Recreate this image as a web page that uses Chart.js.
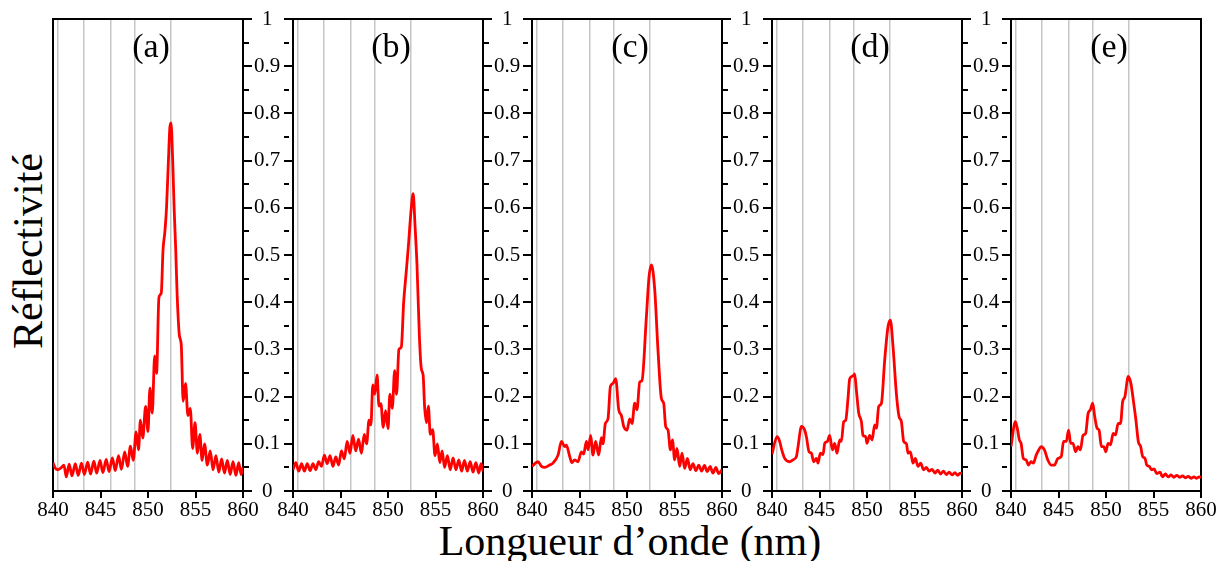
<!DOCTYPE html>
<html lang="fr">
<head>
    <meta charset="UTF-8">
    <title>Réflectivité</title>
    <script src="https://cdn.jsdelivr.net/npm/chart.js"></script>
    <style>
        html, body { margin: 0; padding: 0; background: #fff; }
        body {
            width: 1228px; height: 561px; position: relative; overflow: hidden;
            font-family: "Liberation Serif", serif; color: #000;
        }
        canvas { position: absolute; top: 0; }
        .panel-label {
            position: absolute; top: 29px; width: 100px;
            text-align: center; font-size: 34px; line-height: 34px;
        }
        #x-title {
            position: absolute; left: 330px; top: 520px; width: 600px;
            text-align: center; font-size: 42px; line-height: 42px;
        }
        #y-title {
            position: absolute; left: -122px; top: 230px; width: 300px; height: 42px;
            text-align: center; font-size: 42px; line-height: 42px;
            transform: rotate(-90deg);
        }
    </style>
</head>
<body>
    <div id="x-title">Longueur d’onde (nm)</div>
    <div id="y-title">Réflectivité</div>

    <script>
        // wavelengths (nm) and reflectivity
        const lambdaA = [
            840.0, 840.25, 840.5, 840.9, 841.15, 841.4, 841.7, 842.0, 842.35, 842.65,
            843.0, 843.3, 843.65, 843.95, 844.3, 844.6, 844.95, 845.25, 845.6, 845.9,
            846.25, 846.55, 846.9, 847.2, 847.55, 847.85, 848.15, 848.45, 848.75, 849.0,
            849.2, 849.45, 849.75, 850.0, 850.2, 850.45, 850.7, 850.9, 851.15, 851.4,
            851.58, 851.78, 851.95, 852.15, 852.3, 852.42, 852.6, 852.75, 852.92, 853.06,
            853.3, 853.5, 853.7, 853.95, 854.2, 854.45, 854.7, 854.95, 855.2, 855.45,
            855.7, 855.95, 856.25, 856.55, 856.85, 857.15, 857.45, 857.75, 858.05, 858.35,
            858.65, 858.95, 859.25, 859.55, 859.8, 860.0
        ];
        const reflA = [
            0.060, 0.048, 0.045, 0.050, 0.055, 0.030, 0.057, 0.032, 0.058, 0.033,
            0.059, 0.035, 0.061, 0.036, 0.063, 0.038, 0.065, 0.039, 0.067, 0.041,
            0.070, 0.043, 0.075, 0.046, 0.083, 0.052, 0.095, 0.065, 0.125, 0.087,
            0.150, 0.112, 0.179, 0.126, 0.218, 0.165, 0.286, 0.249, 0.410, 0.420,
            0.510, 0.550, 0.600, 0.700, 0.770, 0.780, 0.700, 0.600, 0.510, 0.420,
            0.330, 0.310, 0.190, 0.228, 0.160, 0.175, 0.090, 0.145, 0.080, 0.120,
            0.065, 0.100, 0.055, 0.085, 0.045, 0.075, 0.040, 0.068, 0.038, 0.065,
            0.035, 0.062, 0.033, 0.060, 0.035, 0.050
        ];

        const lambdaB = [
            840.0, 840.3, 840.6, 840.9, 841.2, 841.5, 841.8, 842.1, 842.4, 842.7,
            843.0, 843.3, 843.6, 843.9, 844.2, 844.5, 844.8, 845.1, 845.4, 845.7,
            846.0, 846.3, 846.6, 846.9, 847.2, 847.5, 847.75, 848.0, 848.2, 848.4,
            848.6, 848.85, 849.05, 849.25, 849.5, 849.75, 850.0, 850.2, 850.45, 850.7,
            850.9, 851.15, 851.4, 851.65, 851.9, 852.15, 852.45, 852.65, 852.85, 853.05,
            853.3, 853.5, 853.7, 853.85, 854.05, 854.25, 854.45, 854.7, 854.95, 855.2,
            855.45, 855.7, 855.95, 856.25, 856.55, 856.85, 857.15, 857.45, 857.75, 858.05,
            858.35, 858.65, 858.95, 859.25, 859.55, 859.8, 860.0
        ];
        const reflB = [
            0.045, 0.060, 0.042, 0.058, 0.042, 0.058, 0.043, 0.058, 0.045, 0.062,
            0.052, 0.076, 0.058, 0.075, 0.052, 0.072, 0.055, 0.085, 0.068, 0.105,
            0.080, 0.118, 0.085, 0.110, 0.080, 0.120, 0.100, 0.150, 0.140, 0.225,
            0.205, 0.246, 0.180, 0.185, 0.135, 0.170, 0.132, 0.205, 0.175, 0.255,
            0.205, 0.300, 0.305, 0.400, 0.460, 0.520, 0.600, 0.630, 0.560, 0.480,
            0.330, 0.260, 0.245, 0.180, 0.145, 0.180, 0.120, 0.130, 0.075, 0.100,
            0.060, 0.085, 0.050, 0.075, 0.045, 0.070, 0.045, 0.066, 0.042, 0.065,
            0.042, 0.062, 0.040, 0.060, 0.038, 0.058, 0.042
        ];

        const lambdaC = [
            840.0, 840.3, 840.63, 841.0, 841.34, 841.86, 842.2, 842.74, 843.1, 843.44,
            843.62, 843.97, 844.2, 844.49, 844.84, 845.2, 845.44, 845.72, 845.9, 846.18,
            846.42, 846.7, 847.02, 847.3, 847.47, 847.72, 848.0, 848.25, 848.53, 848.81,
            849.13, 849.41, 849.65, 850.0, 850.28, 850.53, 850.81, 851.05, 851.34, 851.58,
            852.04, 852.32, 852.57, 852.92, 853.26, 853.62, 853.86, 854.07, 854.32, 854.57,
            854.78, 855.02, 855.26, 855.55, 855.79, 856.07, 856.36, 856.65, 856.95, 857.25,
            857.55, 857.85, 858.15, 858.45, 858.75, 859.05, 859.35, 859.65, 860.0
        ];
        const reflC = [
            0.052, 0.058, 0.062, 0.052, 0.050, 0.055, 0.059, 0.076, 0.105, 0.094,
            0.097, 0.073, 0.060, 0.066, 0.062, 0.083, 0.078, 0.105, 0.087, 0.118,
            0.076, 0.105, 0.076, 0.113, 0.100, 0.143, 0.153, 0.221, 0.228, 0.238,
            0.172, 0.160, 0.137, 0.129, 0.153, 0.143, 0.186, 0.172, 0.231, 0.234,
            0.369, 0.454, 0.479, 0.426, 0.299, 0.196, 0.186, 0.137, 0.129, 0.087,
            0.108, 0.066, 0.090, 0.052, 0.080, 0.048, 0.069, 0.045, 0.058, 0.043,
            0.055, 0.042, 0.054, 0.041, 0.052, 0.038, 0.050, 0.037, 0.045
        ];

        const lambdaD = [
            840.0, 840.53, 840.81, 840.99, 841.34, 841.86, 842.2, 842.57, 842.74, 843.1,
            843.44, 843.62, 843.9, 844.15, 844.39, 844.67, 844.84, 845.09, 845.37, 845.55,
            845.83, 846.07, 846.36, 846.6, 846.84, 847.13, 847.3, 847.55, 847.76, 848.0,
            848.18, 848.53, 848.7, 848.88, 849.13, 849.41, 849.58, 849.86, 850.0, 850.28,
            850.53, 850.81, 850.99, 851.23, 851.52, 851.86, 852.21, 852.46, 852.74, 853.09,
            853.37, 853.62, 853.86, 854.15, 854.32, 854.57, 854.84, 855.09, 855.37, 855.65,
            855.95, 856.25, 856.55, 856.85, 857.15, 857.45, 857.75, 858.05, 858.35, 858.65,
            858.95, 859.25, 859.55, 859.8, 860.0
        ];
        const reflD = [
            0.078, 0.115, 0.105, 0.090, 0.069, 0.062, 0.066, 0.073, 0.094, 0.137,
            0.129, 0.115, 0.083, 0.080, 0.062, 0.069, 0.059, 0.080, 0.077, 0.101,
            0.105, 0.118, 0.087, 0.101, 0.080, 0.108, 0.105, 0.147, 0.150, 0.196,
            0.238, 0.244, 0.248, 0.214, 0.165, 0.147, 0.118, 0.115, 0.101, 0.118,
            0.108, 0.140, 0.133, 0.179, 0.186, 0.277, 0.348, 0.362, 0.306, 0.207,
            0.158, 0.147, 0.105, 0.100, 0.080, 0.083, 0.059, 0.069, 0.052, 0.059,
            0.045, 0.050, 0.042, 0.046, 0.038, 0.044, 0.036, 0.042, 0.035, 0.040,
            0.034, 0.039, 0.033, 0.038, 0.036
        ];

        const lambdaE = [
            840.0, 840.46, 840.7, 840.88, 841.06, 841.3, 841.59, 841.83, 842.12, 842.36,
            842.65, 842.92, 843.17, 843.52, 843.87, 844.23, 844.58, 844.93, 845.29, 845.53,
            845.82, 846.06, 846.28, 846.52, 846.8, 847.05, 847.3, 847.58, 847.86, 848.11,
            848.36, 848.6, 848.81, 849.06, 849.27, 849.52, 849.77, 849.98, 850.22, 850.48,
            850.75, 851.0, 851.28, 851.53, 851.75, 851.99, 852.34, 852.62, 852.87, 853.15,
            853.4, 853.65, 853.86, 854.11, 854.29, 854.56, 854.81, 855.06, 855.34, 855.69,
            855.94, 856.25, 856.55, 856.85, 857.15, 857.45, 857.75, 858.05, 858.35, 858.65,
            858.95, 859.25, 859.55, 859.8, 860.0
        ];
        const reflE = [
            0.094, 0.147, 0.129, 0.108, 0.101, 0.069, 0.066, 0.055, 0.062, 0.059,
            0.076, 0.087, 0.094, 0.087, 0.066, 0.055, 0.055, 0.069, 0.073, 0.105,
            0.105, 0.129, 0.101, 0.101, 0.083, 0.094, 0.087, 0.118, 0.122, 0.164,
            0.172, 0.186, 0.158, 0.133, 0.129, 0.094, 0.094, 0.083, 0.101, 0.098,
            0.122, 0.119, 0.143, 0.143, 0.189, 0.200, 0.243, 0.228, 0.193, 0.150,
            0.105, 0.094, 0.073, 0.069, 0.055, 0.052, 0.045, 0.047, 0.037, 0.040,
            0.030, 0.036, 0.030, 0.034, 0.029, 0.033, 0.029, 0.032, 0.028, 0.031,
            0.027, 0.030, 0.027, 0.030, 0.029
        ];

        // grey vertical reference lines (nm), same in every panel
        const markerLines = [840.5, 843.25, 846.1, 848.65, 852.35];
        const panelNames = ['(a)', '(b)', '(c)', '(d)', '(e)'];

        const panels = [
            { x: lambdaA, y: reflA },
            { x: lambdaB, y: reflB },
            { x: lambdaC, y: reflC },
            { x: lambdaD, y: reflD },
            { x: lambdaE, y: reflE }
        ];

        // left edge of each plot area in the page
        const plotLeft = [53, 293, 532, 772, 1011];

        const serif = '"Liberation Serif", serif';
        const tickFont = { family: serif, size: 21 };

        // short ticks every 0.05, long ones every 0.1
        const minorDash = (ctx) => (Math.round(ctx.tick.value * 20) % 2 ? [5, 60] : []);

        panels.forEach((p, i) => {
            const canvas = document.createElement('canvas');
            canvas.width = 250;
            canvas.height = 561;
            canvas.style.left = (plotLeft[i] - 20) + 'px';
            document.body.appendChild(canvas);

            const label = document.createElement('div');
            label.className = 'panel-label';
            label.textContent = panelNames[i];
            label.style.left = (plotLeft[i] + 98 - 50) + 'px';
            document.body.appendChild(label);

            new Chart(canvas, {
                type: 'line',
                data: {
                    datasets: [{
                        data: p.x.map((x, k) => ({ x: x, y: p.y[k] })),
                        xAxisID: 'x',
                        yAxisID: 'y',
                        borderColor: '#ff0000',
                        borderWidth: 2.8,
                        pointRadius: 0,
                        cubicInterpolationMode: 'monotone',
                        fill: false
                    }]
                },
                options: {
                    responsive: false,
                    animation: false,
                    events: [],
                    layout: { padding: { top: 19, bottom: 30, left: 0, right: 0 } },
                    plugins: { legend: { display: false }, tooltip: { enabled: false } },
                    scales: {
                        x: {
                            type: 'linear', position: 'bottom', min: 840, max: 860,
                            ticks: { stepSize: 5, autoSkip: false, maxRotation: 0, padding: 0, color: '#000', font: tickFont },
                            grid: { drawOnChartArea: false, tickLength: 7, color: '#000', lineWidth: 2 },
                            border: { color: '#000', width: 2 },
                            afterFit: (s) => { s.height = 40; }
                        },
                        xTop: {
                            type: 'linear', position: 'top', min: 840, max: 860,
                            ticks: { display: false },
                            afterBuildTicks: (s) => { s.ticks = markerLines.map(v => ({ value: v })); },
                            grid: { drawTicks: false, color: '#c6c6c6', lineWidth: 1.5 },
                            border: { color: '#000', width: 2 },
                            afterFit: (s) => { s.height = 0; }
                        },
                        yLeft: {
                            type: 'linear', position: 'left', min: 0, max: 1,
                            ticks: { display: false, stepSize: 0.05 },
                            grid: {
                                drawOnChartArea: false, drawTicks: i > 0, tickLength: 9,
                                color: '#000', lineWidth: 2, tickBorderDash: minorDash
                            },
                            border: { color: '#000', width: 2 },
                            afterFit: (s) => { s.width = 20; }
                        },
                        y: {
                            type: 'linear', position: 'right', min: 0, max: 1,
                            ticks: {
                                display: i < 4, stepSize: 0.05, autoSkip: false,
                                crossAlign: 'center', padding: 2, color: '#000', font: tickFont,
                                callback: (v) => {
                                    const k = Math.round(v * 20);
                                    return k % 2 ? '' : String(k / 20);
                                }
                            },
                            grid: {
                                drawOnChartArea: false, drawTicks: i < 4, tickLength: 9,
                                color: '#000', lineWidth: 2, tickBorderDash: minorDash
                            },
                            border: { color: '#000', width: 2 },
                            afterFit: (s) => { s.width = 40; }
                        }
                    }
                }
            });
        });
    </script>
</body>
</html>
